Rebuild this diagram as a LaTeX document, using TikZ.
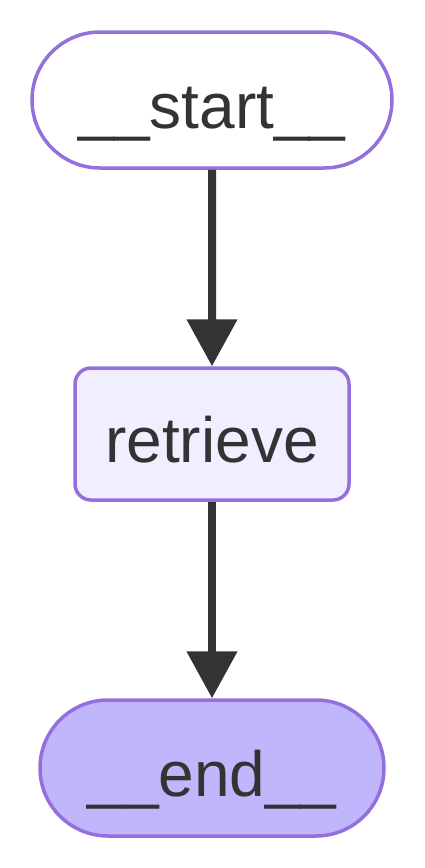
\documentclass[tikz,border=0pt]{standalone}
\usepackage{fontspec}
\setmainfont{Liberation Sans}
\usepackage{tikz}
\usetikzlibrary{arrows.meta,positioning,shapes.misc}

\definecolor{nodeborder}{HTML}{9370DB}
\definecolor{nodefill}{HTML}{F0EEFF}
\definecolor{endfill}{HTML}{BFB6FC}
\definecolor{edgegray}{HTML}{333333}

\tikzset{
    terminal/.style={rounded rectangle, draw=nodeborder, line width=1.75pt,
        minimum height=68pt, inner sep=0pt, text=edgegray,
        text height=30.4pt, text depth=2.4pt,
        font=\fontsize{32}{38}\selectfont},
    stepbox/.style={rectangle, rounded corners=8pt, draw=nodeborder, fill=nodefill,
        line width=1.75pt, minimum width=137pt, minimum height=66pt, inner sep=0pt,
        text height=30.4pt, text depth=2.4pt,
        text=edgegray, font=\fontsize{32}{38}\selectfont},
    flow/.style={draw=edgegray, line width=4pt,
        -{Triangle[length=23.5pt,width=24.5pt]}}
}

\begin{document}
\begin{tikzpicture}[x=0.5pt,y=-0.5pt]
        \useasboundingbox (0,0) rectangle (424,868);

        % Draw the nodes
        \node[terminal, fill=white, minimum width=180pt] (start) at (212,100) {\_\_start\_\_};
        \node[stepbox] (retrieve) at (212,434) {retrieve};
        \node[terminal, fill=endfill, minimum width=172pt] (end) at (212,768) {\_\_end\_\_};

        % Draw the edges
        \draw[flow] (start) -- (retrieve);
        \draw[flow] (retrieve) -- (end);
    \end{tikzpicture}
\end{document}
